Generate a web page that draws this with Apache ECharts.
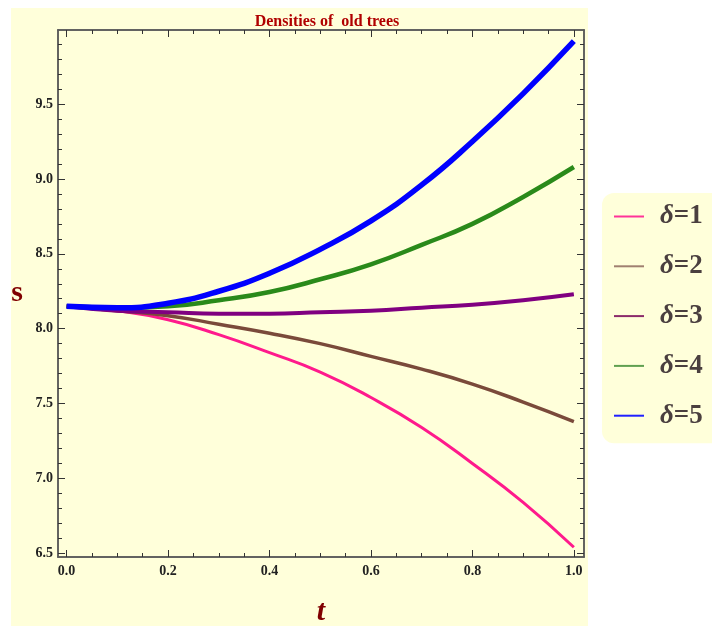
<!DOCTYPE html>
<html>
<head>
<meta charset="utf-8">
<script src="https://cdn.jsdelivr.net/npm/echarts@6/dist/echarts.min.js"></script>
<style>
html,body{margin:0;padding:0;background:#ffffff;}
#chart{width:712px;height:626px;}
</style>
</head>
<body>
<div id="chart"></div>
<script>
// ---- data ----
const tValues = [0, 0.1, 0.2, 0.3, 0.4, 0.5, 0.6, 0.7, 0.8, 0.9, 1.0];
const delta1 = [8.15, 8.12, 8.06, 7.96, 7.84, 7.71, 7.54, 7.34, 7.10, 6.84, 6.54];
const delta2 = [8.15, 8.12, 8.087, 8.03, 7.97, 7.90, 7.815, 7.73, 7.63, 7.51, 7.38];
const delta3 = [8.15, 8.12, 8.11, 8.10, 8.10, 8.11, 8.12, 8.14, 8.16, 8.19, 8.23];
const delta4 = [8.15, 8.14, 8.15, 8.19, 8.245, 8.33, 8.43, 8.56, 8.70, 8.88, 9.08];
const delta5 = [8.15, 8.14, 8.17, 8.25, 8.37, 8.53, 8.72, 8.96, 9.25, 9.57, 9.92];
const seriesNames = ['δ=1', 'δ=2', 'δ=3', 'δ=4', 'δ=5'];
const xTickLabels = [0, 0.2, 0.4, 0.6, 0.8, 1.0];
const yTickLabels = [6.5, 7.0, 7.5, 8.0, 8.5, 9.0, 9.5];
const xMinorTicks = [0.05,0.1,0.15,0.25,0.3,0.35,0.45,0.5,0.55,0.65,0.7,0.75,0.85,0.9,0.95];
const yMinorTicks = [6.6,6.7,6.8,6.9,7.1,7.2,7.3,7.4,7.6,7.7,7.8,7.9,8.1,8.2,8.3,8.4,8.6,8.7,8.8,8.9,9.1,9.2,9.3,9.4,9.6,9.7,9.8,9.9];

const allSeries = [delta1, delta2, delta3, delta4, delta5];
const lineColors = ['#FF1A8C', '#7A4A3A', '#800080', '#2A8A1A', '#0000FF'];
const lineWidths = [3, 3.5, 4, 4.5, 5.5];
const legendColors = ['#FF3399', '#A08070', '#8B2A6A', '#60A050', '#2020FF'];

const X_MIN = -0.017, X_MAX = 1.02, Y_MIN = 6.475, Y_MAX = 9.995;
const axisColor = '#5a5a5a';
const serif = '"Liberation Serif", "DejaVu Serif", serif';

function xAxisDef(pos, ticks, len, showLabels, name) {
  return {
    type: 'value', position: pos, min: X_MIN, max: X_MAX,
    name: name || '', nameLocation: 'middle', nameGap: 40,
    nameTextStyle: {fontFamily: serif, fontSize: 30, fontWeight: 'bold', fontStyle: 'italic', color: '#800000'},
    axisLine: {show: true, onZero: false, lineStyle: {color: axisColor, width: 1.5}},
    axisTick: {show: true, inside: true, length: len, customValues: ticks, lineStyle: {color: '#333', width: 1}},
    axisLabel: showLabels ? {show: true, customValues: xTickLabels, margin: 7,
      formatter: v => v.toFixed(1), fontFamily: serif, fontWeight: 'bold', fontSize: 14, color: '#222'} : {show: false},
    splitLine: {show: false}
  };
}
function yAxisDef(pos, ticks, len, showLabels, name) {
  return {
    type: 'value', position: pos, min: Y_MIN, max: Y_MAX,
    name: name || '', nameLocation: 'middle', nameGap: 35, nameRotate: 0,
    nameTextStyle: {fontFamily: serif, fontSize: 30, fontWeight: 'bold', color: '#800000'},
    axisLine: {show: true, onZero: false, lineStyle: {color: axisColor, width: 1.5}},
    axisTick: {show: true, inside: true, length: len, customValues: ticks, lineStyle: {color: '#333', width: 1}},
    axisLabel: showLabels ? {show: true, customValues: yTickLabels, margin: 5,
      formatter: v => v.toFixed(1), fontFamily: serif, fontWeight: 'bold', fontSize: 14, color: '#222'} : {show: false},
    splitLine: {show: false}
  };
}

const chart = echarts.init(document.getElementById('chart'), null, {renderer: 'canvas'});
const option = {
  animation: false,
  backgroundColor: '#ffffff',
  graphic: [{
    type: 'rect', z: -10, silent: true,
    shape: {x: 11, y: 8, width: 577, height: 630},
    style: {fill: '#FFFFDA'}
  }],
  title: {
    text: 'Densities of  old trees',
    left: 322, top: 9, textAlign: 'center',
    textStyle: {fontFamily: serif, fontSize: 16, fontWeight: 'bold', color: '#B00000'}
  },
  grid: {left: 58, top: 30, right: 128, bottom: 69, containLabel: false, outerBoundsMode: 'none'},
  xAxis: [
    xAxisDef('bottom', xTickLabels, 7, true, 't'),
    xAxisDef('bottom', xMinorTicks, 4, false),
    xAxisDef('top', xTickLabels, 7, false),
    xAxisDef('top', xMinorTicks, 4, false)
  ],
  yAxis: [
    yAxisDef('left', yTickLabels, 7, true, 's'),
    yAxisDef('left', yMinorTicks, 4, false),
    yAxisDef('right', yTickLabels, 7, false),
    yAxisDef('right', yMinorTicks, 4, false)
  ],
  legend: {
    orient: 'vertical',
    left: 602, top: 193,
    backgroundColor: '#FFFFDA',
    borderRadius: 12,
    padding: [10, 30, 14, 12],
    itemGap: 22.8,
    icon: 'rect',
    itemWidth: 30, itemHeight: 2,
    data: seriesNames.map((n, i) => ({name: n, itemStyle: {color: legendColors[i]}})),
    formatter: name => '{s|}{g|δ}{n|' + name.slice(1) + '}',
    textStyle: {
      color: '#4a3f3f',
      rich: {
        s: {width: 11},
        g: {fontFamily: serif, fontSize: 27, fontStyle: 'italic', fontWeight: 'bold', color: '#4a3f3f', lineHeight: 30},
        n: {fontFamily: serif, fontSize: 27, fontWeight: 'bold', color: '#4a3f3f', lineHeight: 30}
      }
    }
  },
  series: allSeries.map((vals, i) => ({
    name: seriesNames[i],
    type: 'line',
    xAxisIndex: 0, yAxisIndex: 0,
    smooth: true,
    symbol: 'none',
    data: tValues.map((t, j) => [t, vals[j]]),
    lineStyle: {color: lineColors[i], width: lineWidths[i]},
    itemStyle: {color: lineColors[i]}
  }))
};
chart.setOption(option);
</script>
</body>
</html>
